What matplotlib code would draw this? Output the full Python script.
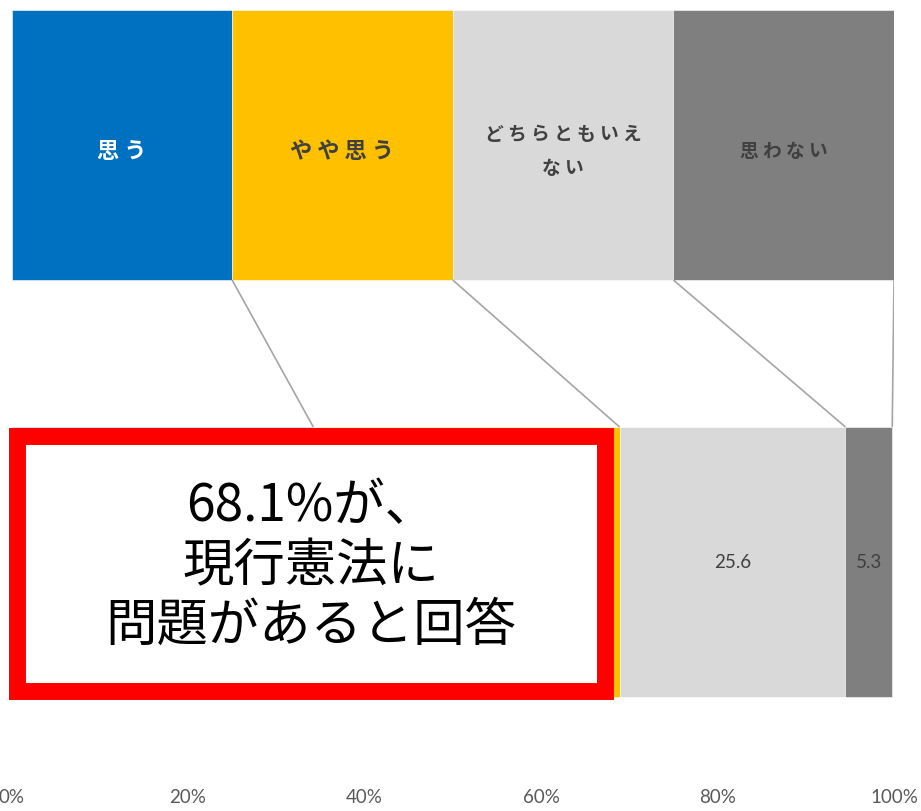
import matplotlib.pyplot as plt
from matplotlib.patches import Rectangle

plt.rcParams['font.family'] = ['Noto Sans CJK JP', 'DejaVu Sans']

# data
categories = ['思う', 'やや思う', 'どちらともいえ\nない', '思わない']
values = [34.2, 34.7, 25.6, 5.3]
shown_labels = ['', '', '25.6', '5.3']
colors = ['#0070C0', '#FFC000', '#D9D9D9', '#7F7F7F']
legend_text_colors = ['white', '#404040', '#404040', '#404040']
legend_font_sizes = [16, 16, 13.5, 13.5]
highlight_text = '68.1%が、\n現行憲法に\n問題があると回答'
xticks = [0, 20, 40, 60, 80, 100]
xtick_labels = ['0%', '20%', '40%', '60%', '80%', '100%']

W, H = 921, 811
fig = plt.figure(figsize=(W / 100, H / 100), dpi=100)

# axes: x from 0% (px 11.5) to 100% (px 894), y px 0..760 from top
ax = fig.add_axes([11.5 / W, (H - 760) / H, 882.5 / W, 760 / H])
ppu = 417.0  # pixels per y unit
ax.set_ylim((562 - 760) / ppu, 562 / ppu)
ax.set_xlim(0, 100)

bar_h = 270 / ppu
# main stacked bar (y=0)
left = 0
bounds = []
for v, c, lab in zip(values, colors, shown_labels):
    ax.barh(0, v, left=left, height=bar_h, color=c, edgecolor='white', linewidth=0.4)
    if lab:
        ax.text(left + v / 2, 0, lab, ha='center', va='center', fontsize=13.5,
                color='#404040', family='Lato')
    left += v
    bounds.append(left)

# legend row (y=1), equal boxes
seg = 100 / len(categories)
for i, (cat, c) in enumerate(zip(categories, colors)):
    ax.barh(1, seg, left=i * seg, height=bar_h, color=c, edgecolor='white', linewidth=0.4)
    txt = '\n'.join(' '.join(line) for line in cat.split('\n'))
    ax.text(i * seg + seg / 2, 0.985, txt, ha='center', va='center',
            fontsize=legend_font_sizes[i], fontweight='bold',
            color=legend_text_colors[i], linespacing=2.0)
    # connector from legend box to bar boundary
    ax.plot([(i + 1) * seg, bounds[i]], [1 - bar_h / 2, bar_h / 2],
            color='#A5A5A5', linewidth=1.2, solid_capstyle='butt')

# red highlight box
x0 = (16.5 - 11.5) / 8.825
x1 = (604.5 - 11.5) / 8.825
y0 = (562 - 690.5) / ppu
y1 = (562 - 435.5) / ppu
ax.add_patch(Rectangle((x0, y0), x1 - x0, y1 - y0, facecolor='white',
                       edgecolor='#FF0000', linewidth=12.2, joinstyle='miter',
                       clip_on=False, zorder=5))
ax.text(33.9, -0.01, highlight_text, ha='center', va='center', fontsize=37,
        color='black', linespacing=1.15, zorder=6)

ax.set_xticks(xticks)
ax.set_xticklabels(xtick_labels, family='Lato', fontsize=13.5, color='#595959')
ax.tick_params(axis='x', length=0, pad=21)
ax.set_yticks([])
for s in ax.spines.values():
    s.set_visible(False)

fig.savefig('out.png', dpi=100)
